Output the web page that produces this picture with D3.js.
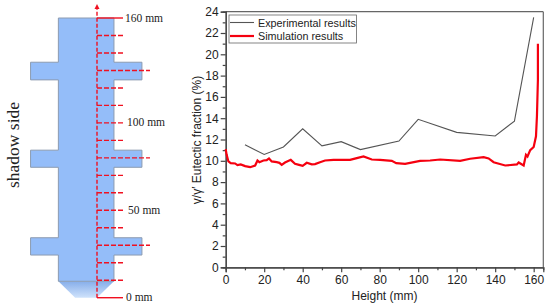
<!DOCTYPE html>
<html>
<head>
<meta charset="utf-8">
<script src="https://cdn.jsdelivr.net/npm/d3@7"></script>
<style>
html, body { margin: 0; padding: 0; background: #fff; }
svg { display: block; }
.axis text { font-family: "Liberation Sans", Arial, sans-serif; font-size: 12px; fill: #222; }
.axis path, .axis line { stroke: #444; stroke-width: 1.2; }
.sans { font-family: "Liberation Sans", Arial, sans-serif; fill: #222; }
.serif { font-family: "Liberation Serif", "Times New Roman", serif; fill: #222; }
</style>
</head>
<body>
<svg id="chart" width="550" height="306"></svg>
<script>
// experimental results
var expHeight = [10, 20, 30, 40, 50, 60, 70, 90, 100, 120, 140, 150, 160];
var expFraction = [11.5, 10.6, 11.3, 13, 11.4, 11.8, 11.05, 11.86, 13.9, 12.67, 12.33, 13.73, 23.47];

// simulation results
var simHeight = [0, 0.5, 1.4, 2.6, 4.9, 6.1, 7.8, 10.1, 12.7, 15.3, 16.5, 17.5, 19.6, 21.3, 22.5, 23.9, 26.5, 27.9, 29.1, 30.8, 33.8, 36, 38.1, 40, 42.1, 44.7, 46.4, 49, 51.6, 56, 64.6, 68.1, 71.6, 75.9, 80.2, 86.3, 88.6, 93.2, 101, 106.2, 111.4, 121.8, 127, 134, 136.6, 139.2, 145.2, 151.3, 152.2, 154.8, 156, 156.8, 158.2, 160, 161.2, 161.7, 162.2, 162.2];
var simFraction = [11.1, 10.56, 9.94, 9.78, 9.75, 9.6, 9.66, 9.5, 9.4, 9.56, 10.03, 9.87, 10.03, 10.06, 10.22, 9.94, 9.87, 9.81, 9.62, 9.84, 10.09, 9.72, 9.62, 9.53, 9.81, 9.66, 9.69, 9.87, 10.03, 10.09, 10.09, 10.25, 10.41, 10.12, 10.09, 10, 9.78, 9.72, 10, 10.03, 10.12, 10, 10.19, 10.34, 10.22, 9.87, 9.56, 9.66, 9.84, 9.56, 10.56, 10.4, 11, 11.3, 12.3, 14.2, 17.6, 21];

var xTicks = [0, 20, 40, 60, 80, 100, 120, 140, 160];
var xMinor = [10, 30, 50, 70, 90, 110, 130, 150];
var yTicks = [0, 2, 4, 6, 8, 10, 12, 14, 16, 18, 20, 22, 24];
var yMinor = [1, 3, 5, 7, 9, 11, 13, 15, 17, 19, 21, 23];

// sample drawing, everything in mm from the tip / centre line
var sampleOutline = [[-22.1, 160], [9.7, 160], [9.7, 134.7], [25.7, 134.7], [25.7, 124.6], [9.7, 124.6], [9.7, 84.4], [25.7, 84.4], [25.7, 74.6], [9.7, 74.6], [9.7, 34.3], [25.7, 34.3], [25.7, 24.4], [9.7, 24.4], [9.7, 9.4], [-22.1, 9.4], [-22.1, 24.4], [-38, 24.4], [-38, 34.3], [-22.1, 34.3], [-22.1, 74.6], [-38, 74.6], [-38, 84.4], [-22.1, 84.4], [-22.1, 124.6], [-38, 124.6], [-38, 134.7], [-22.1, 134.7]];
var sampleCone = [[9.7, 9.4], [0, 0], [-12.5, 0], [-22.1, 9.4]];
var shortCuts = [10, 20, 40, 50, 60, 70, 90, 100, 110, 120, 140, 150];
var longCuts = [30, 80, 130];
var sampleLabels = [
    { mm: 160, text: '160 mm', dx: 28 },
    { mm: 100, text: '100 mm', dx: 30 },
    { mm: 50, text: '50 mm', dx: 31 },
    { mm: 0, text: '0 mm', dx: 29 }
];

var svg = d3.select('#chart');

var x = d3.scaleLinear().domain([0, 165]).range([225.7, 543.3]);
var y = d3.scaleLinear().domain([0, 24]).range([267.3, 11.7]);

// sample drawing scales
var sx = d3.scaleLinear().domain([0, 10]).range([97, 114.48]);
var sy = d3.scaleLinear().domain([0, 160]).range([297.7, 18]);

var defs = svg.append('defs');
var grad = defs.append('linearGradient').attr('id', 'cone').attr('x1', 0).attr('x2', 0).attr('y1', 0).attr('y2', 1);
grad.append('stop').attr('offset', '0').attr('stop-color', '#86aeea');
grad.append('stop').attr('offset', '1').attr('stop-color', '#cfe2fb');

var polyLine = d3.line().x(function(d) { return sx(d[0]); }).y(function(d) { return sy(d[1]); });

svg.append('path')
    .attr('d', polyLine(sampleCone) + 'Z')
    .attr('fill', 'url(#cone)');

svg.append('path')
    .attr('d', polyLine(sampleOutline) + 'Z')
    .attr('fill', '#94bdf9')
    .attr('stroke', '#8c9bb0')
    .attr('stroke-width', 1);

// centre line with arrow
svg.append('line')
    .attr('x1', sx(0)).attr('x2', sx(0))
    .attr('y1', sy(0)).attr('y2', 8)
    .attr('stroke', '#f01020').attr('stroke-width', 1.4).attr('stroke-dasharray', '4 2');

svg.append('path')
    .attr('d', 'M' + sx(0) + ' 4L' + (sx(0) + 2.5) + ' 9L' + (sx(0) - 2.5) + ' 9Z')
    .attr('fill', '#f01020');

svg.selectAll('.short-cut')
    .data(shortCuts)
    .enter().append('line')
    .attr('class', 'short-cut')
    .attr('x1', sx(0)).attr('x2', 123)
    .attr('y1', function(d) { return sy(d); })
    .attr('y2', function(d) { return sy(d); })
    .attr('stroke', '#f01020').attr('stroke-width', 1.4).attr('stroke-dasharray', '5 2');

svg.selectAll('.long-cut')
    .data(longCuts)
    .enter().append('line')
    .attr('class', 'long-cut')
    .attr('x1', sx(0)).attr('x2', 150)
    .attr('y1', function(d) { return sy(d); })
    .attr('y2', function(d) { return sy(d); })
    .attr('stroke', '#f01020').attr('stroke-width', 1.4).attr('stroke-dasharray', '5 2');

// solid marks at both ends
svg.selectAll('.end-cut')
    .data([0, 160])
    .enter().append('line')
    .attr('class', 'end-cut')
    .attr('x1', sx(0)).attr('x2', 123)
    .attr('y1', function(d) { return sy(d); })
    .attr('y2', function(d) { return sy(d); })
    .attr('stroke', '#f01020').attr('stroke-width', 1.4);

svg.selectAll('.sample-label')
    .data(sampleLabels)
    .enter().append('text')
    .attr('class', 'sample-label serif')
    .attr('x', function(d) { return sx(0) + d.dx; })
    .attr('y', function(d) { return sy(d.mm) + 3.5; })
    .attr('font-size', 11.5)
    .text(function(d) { return d.text; });

svg.append('text')
    .attr('class', 'serif')
    .attr('transform', 'translate(19,145) rotate(-90)')
    .attr('text-anchor', 'middle')
    .attr('font-size', 17.5)
    .text('shadow side');

// frame
svg.append('line').attr('x1', x.range()[0]).attr('x2', x.range()[1]).attr('y1', y(24)).attr('y2', y(24)).attr('stroke', '#666').attr('stroke-width', 1.2);
svg.append('line').attr('x1', x.range()[1]).attr('x2', x.range()[1]).attr('y1', y(24)).attr('y2', y(0)).attr('stroke', '#666').attr('stroke-width', 1.2);

// axes
var xAxis = d3.axisBottom(x).tickValues(xTicks).tickSize(5).tickPadding(3).tickFormat(d3.format('d'));
var yAxis = d3.axisLeft(y).tickValues(yTicks).tickSize(5).tickPadding(2).tickFormat(d3.format('d'));

svg.append('g').attr('class', 'axis').attr('transform', 'translate(0,' + y(0) + ')').call(xAxis);
svg.append('g').attr('class', 'axis').attr('transform', 'translate(' + x(0) + ',0)').call(yAxis);

svg.append('g').attr('class', 'axis').attr('transform', 'translate(0,' + y(0) + ')')
    .call(d3.axisBottom(x).tickValues(xMinor).tickSize(3).tickFormat(''));
svg.append('g').attr('class', 'axis').attr('transform', 'translate(' + x(0) + ',0)')
    .call(d3.axisLeft(y).tickValues(yMinor).tickSize(3).tickFormat(''));

svg.append('text')
    .attr('class', 'sans')
    .attr('x', 384.5).attr('y', 300)
    .attr('text-anchor', 'middle')
    .attr('font-size', 12)
    .text('Height (mm)');

svg.append('text')
    .attr('class', 'sans')
    .attr('transform', 'translate(201,140) rotate(-90)')
    .attr('text-anchor', 'middle')
    .attr('font-size', 12)
    .text('γ/γ′ Eutectic fraction (%)');

// series
var line = d3.line()
    .x(function(d) { return x(d[0]); })
    .y(function(d) { return y(d[1]); });

svg.append('path')
    .attr('d', line(d3.zip(expHeight, expFraction)))
    .attr('fill', 'none')
    .attr('stroke', '#555')
    .attr('stroke-width', 1.1);

svg.append('path')
    .attr('d', line(d3.zip(simHeight, simFraction)))
    .attr('fill', 'none')
    .attr('stroke', '#f5000f')
    .attr('stroke-width', 2.2);

// legend
var legend = svg.append('g');
legend.append('rect')
    .attr('x', 229).attr('y', 15).attr('width', 127.5).attr('height', 28)
    .attr('fill', '#fff').attr('stroke', '#666').attr('stroke-width', 0.8);

legend.append('line').attr('x1', 230).attr('x2', 254).attr('y1', 22.5).attr('y2', 22.5).attr('stroke', '#555').attr('stroke-width', 1.1);
legend.append('line').attr('x1', 230).attr('x2', 254).attr('y1', 36).attr('y2', 36).attr('stroke', '#f5000f').attr('stroke-width', 2.2);

legend.append('text').attr('class', 'sans').attr('x', 258).attr('y', 26.5).attr('font-size', 10.8).text('Experimental results');
legend.append('text').attr('class', 'sans').attr('x', 258).attr('y', 40).attr('font-size', 10.8).text('Simulation results');
</script>
</body>
</html>
